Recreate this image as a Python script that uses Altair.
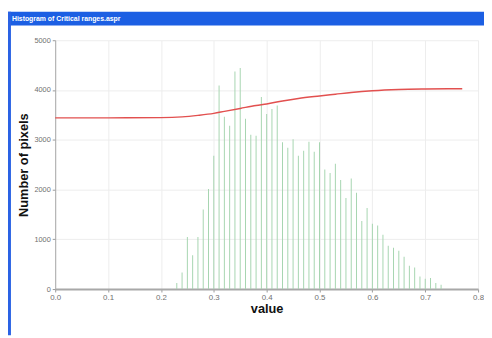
import altair as alt
import pandas as pd

# ---- data ----
bin_centers = [0.23, 0.24, 0.25, 0.26, 0.27, 0.28, 0.29, 0.30, 0.31, 0.32,
               0.33, 0.34, 0.35, 0.36, 0.37, 0.38, 0.39, 0.40, 0.41, 0.42,
               0.43, 0.44, 0.45, 0.46, 0.47, 0.48, 0.49, 0.50, 0.51, 0.52,
               0.53, 0.54, 0.55, 0.56, 0.57, 0.58, 0.59, 0.60, 0.61, 0.62,
               0.63, 0.64, 0.65, 0.66, 0.67, 0.68, 0.69, 0.70, 0.71, 0.72,
               0.73]
pixel_counts = [120, 335, 1045, 680, 1045, 1600, 2010, 2680, 4090, 3460,
                3280, 4370, 4440, 3420, 3100, 3080, 3860, 3520, 3620, 3690,
                2950, 2840, 3010, 2680, 2780, 2960, 2760, 2950, 2400, 2330,
                2520, 2190, 1830, 2220, 1935, 1365, 1630, 1310, 1275, 1090,
                870, 830, 770, 650, 470, 435, 250, 205, 220, 120,
                85]

curve_x = [0.0, 0.10, 0.20, 0.24, 0.27, 0.30, 0.32, 0.35, 0.38, 0.40,
           0.43, 0.46, 0.50, 0.53, 0.56, 0.60, 0.65, 0.70, 0.77]
curve_y = [3440, 3440, 3445, 3460, 3490, 3530, 3570, 3630, 3690, 3720,
           3780, 3830, 3880, 3915, 3950, 3985, 4010, 4020, 4025]

x_ticks = [0.0, 0.1, 0.2, 0.3, 0.4, 0.5, 0.6, 0.7, 0.8]
y_ticks = [0, 1000, 2000, 3000, 4000, 5000]

window_title = "Histogram of Critical ranges.aspr"

bars_df = pd.DataFrame({"value": bin_centers, "count": pixel_counts})
curve_df = pd.DataFrame({"value": curve_x, "count": curve_y})
one_row = pd.DataFrame({"k": [0]})

W, H = 430, 253
label_font = "Liberation Sans Narrow, Liberation Sans, Arial, sans-serif"
title_font = "Liberation Sans, Arial, sans-serif"

x_scale = alt.Scale(domain=[0, 0.8], nice=False, zero=False, padding=0)
y_scale = alt.Scale(domain=[0, 5000], nice=False, padding=0)

x_axis = alt.Axis(values=x_ticks, format=".1f", title="value",
                  labelFont=label_font, labelFontSize=8, labelColor="#707070",
                  labelPadding=2, labelFlush=False, labelOverlap=False,
                  tickSize=3, tickColor="#999999",
                  domainColor="#a8a8a8", domainWidth=2,
                  grid=True, gridColor="#ededed",
                  titleFont=title_font, titleFontSize=13, titleFontWeight="bold",
                  titleColor="#111111", titlePadding=1)
y_axis = alt.Axis(values=y_ticks, format="d", title="Number of pixels",
                  labelFont=label_font, labelFontSize=7.5, labelColor="#707070",
                  labelPadding=2, labelFlush=False, labelOverlap=False,
                  tickSize=3, tickColor="#999999",
                  domainColor="#a8a8a8", domainWidth=1,
                  grid=True, gridColor="#ededed",
                  titleFont=title_font, titleFontSize=13, titleFontWeight="bold",
                  titleColor="#111111", titleX=-25, titleY=H / 2,
                  titleAlign="center", titleBaseline="bottom", titleAngle=270)

bars = alt.Chart(bars_df).mark_bar(size=1, color="#a6d5b0").encode(
    x=alt.X("value:Q", scale=x_scale, axis=x_axis),
    y=alt.Y("count:Q", scale=y_scale, axis=y_axis),
)

curve = alt.Chart(curve_df).mark_line(color="#e2504f", strokeWidth=1.5,
                                      interpolate="monotone").encode(
    x=alt.X("value:Q", scale=x_scale),
    y=alt.Y("count:Q", scale=y_scale),
)

# window frame decoration (XP-style title bar and left border)
title_bar = alt.Chart(one_row).mark_rect(color="#1c5fe3").encode(
    x=alt.value(-48), x2=alt.value(436), y=alt.value(-29), y2=alt.value(-15))
left_border = alt.Chart(one_row).mark_rect(color="#2a62e4").encode(
    x=alt.value(-48), x2=alt.value(-45), y=alt.value(-29), y2=alt.value(300))
title_text = alt.Chart(one_row).mark_text(
    text=window_title, color="white", fontSize=7, fontWeight="bold",
    font=label_font, align="left", baseline="middle").encode(
    x=alt.value(-44), y=alt.value(-22))

chart = alt.layer(bars, curve, title_bar, left_border, title_text).properties(
    width=W, height=H,
    padding={"left": 48, "top": 30, "right": 6, "bottom": 47},
    autosize=alt.AutoSizeParams(type="none"),
    background="white",
).configure_view(stroke=None)

chart.save("out.html", embed_options={"renderer": "svg", "actions": False})
